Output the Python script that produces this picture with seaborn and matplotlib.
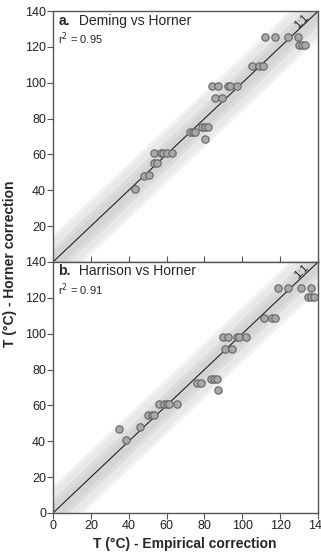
import numpy as np
import pandas as pd
import matplotlib
matplotlib.use('Agg')
from matplotlib import pyplot as plt
import seaborn as sns

sns.set_style('white')
plt.rcParams['font.family'] = ['Liberation Sans', 'DejaVu Sans']

# a. Deming vs Horner
deming_x = [112, 117.5, 124, 129.5, 130, 131.5, 133, 105, 108.8, 111,
            84.2, 87.3, 92.6, 93.5, 97.4, 85.6, 89.1,
            78.7, 80.2, 81.6, 72.6, 74, 75.2, 80.5,
            53.5, 57, 58.3, 60.4, 62.8, 53.2, 55.1, 48.2, 50.7, 43.4]
deming_y = [125.5, 125.5, 125.5, 125.5, 121, 121, 121, 109.3, 109.3, 109.3,
            98.2, 98.2, 98.2, 98.2, 98.2, 91.3, 91.3,
            75.1, 75.1, 75.1, 72.8, 72.8, 72.8, 68.9,
            60.9, 60.9, 60.9, 60.9, 60.9, 55, 55, 47.8, 48.5, 40.7]

# b. Harrison vs Horner
harrison_x = [119, 124, 131.2, 136.2, 134.5, 136.1, 137.7, 111.5, 115.9, 117.4,
              89.9, 92.3, 97.4, 98.4, 102.1, 91, 94.4,
              83.5, 85.1, 86.8, 76.2, 78, 87,
              56.2, 58.6, 60.3, 61.3, 65.5, 50, 52.3, 53.4, 46, 34.9, 38.6]
harrison_y = [125.3, 125.3, 125.3, 125.3, 120.6, 120.6, 120.6, 108.9, 108.9, 108.9,
              98, 98, 98, 98, 98, 91.5, 91.5,
              74.7, 74.7, 74.7, 72.7, 72.7, 68.6,
              60.8, 60.8, 60.8, 60.8, 60.8, 54.7, 54.7, 54.7, 48, 46.7, 40.7]

panels = [('a.', ' Deming vs Horner', '0.95', deming_x, deming_y),
          ('b.', ' Harrison vs Horner', '0.91', harrison_x, harrison_y)]

fig = plt.figure(figsize=(3.21, 5.55), dpi=100)
ax_top = fig.add_axes([0.165, 0.528, 0.826, 0.452])
ax_bot = fig.add_axes([0.165, 0.0757, 0.826, 0.4523])

line = np.array([0, 140])
for ax, (tag, title, r2, xs, ys) in zip([ax_top, ax_bot], panels):
    # shaded bands around the 1:1 line
    for w, c in [(15.5, '#f1f1f1'), (13, '#e8e8e8'), (8, '#dcdcdc'), (5, '#d4d4d4')]:
        ax.fill_between(line, line - w, line + w, color=c, lw=0, zorder=1)
    sns.lineplot(x=line, y=line, color='#222222', lw=0.8, ax=ax, zorder=2)
    sns.scatterplot(data=pd.DataFrame({'x': xs, 'y': ys}), x='x', y='y',
                    s=28, color='#a8a8a8', edgecolor='#656565', linewidth=0.8,
                    ax=ax, zorder=3)
    ax.set_xlim(0, 140)
    ax.set_ylim(0, 140)
    ax.set_xlabel('')
    ax.set_ylabel('')
    ax.set_xticks(range(0, 141, 20))
    for s in ax.spines.values():
        s.set_color('#555555')
        s.set_linewidth(1.0)
    ax.tick_params(axis='y', direction='out', length=4, width=0.8, color='#555555',
                   labelsize=9, pad=1, left=True, labelcolor='#222222')
    ax.text(0.02, 0.962, tag, transform=ax.transAxes, fontsize=10,
            fontweight='bold', va='center', ha='left')
    ax.text(0.083, 0.962, title, transform=ax.transAxes, fontsize=10,
            va='center', ha='left')
    ax.text(0.02, 0.888, 'r$^2$ = ' + r2, transform=ax.transAxes, fontsize=8,
            va='center', ha='left')
    ax.text(131, 134.5, '1:1', rotation=45, fontsize=8, ha='center', va='center',
            color='#222222', zorder=4)

ax_top.set_yticks(range(20, 141, 20))
ax_top.tick_params(axis='x', direction='in', length=4, width=0.8, color='#555555',
                   labelbottom=False, bottom=True)
ax_bot.set_yticks(range(0, 141, 20))
ax_bot.tick_params(axis='x', direction='out', length=4, width=0.8, color='#555555',
                   labelsize=9, pad=1, bottom=True, labelcolor='#222222')

fig.text(0.03, 0.525, 'T (°C) - Horner correction', rotation=90, fontsize=10,
         fontweight='bold', ha='center', va='center')
fig.text(0.575, 0.019, 'T (°C) - Empirical correction', fontsize=10,
         fontweight='bold', ha='center', va='center')

fig.savefig('out.png', dpi=100)
